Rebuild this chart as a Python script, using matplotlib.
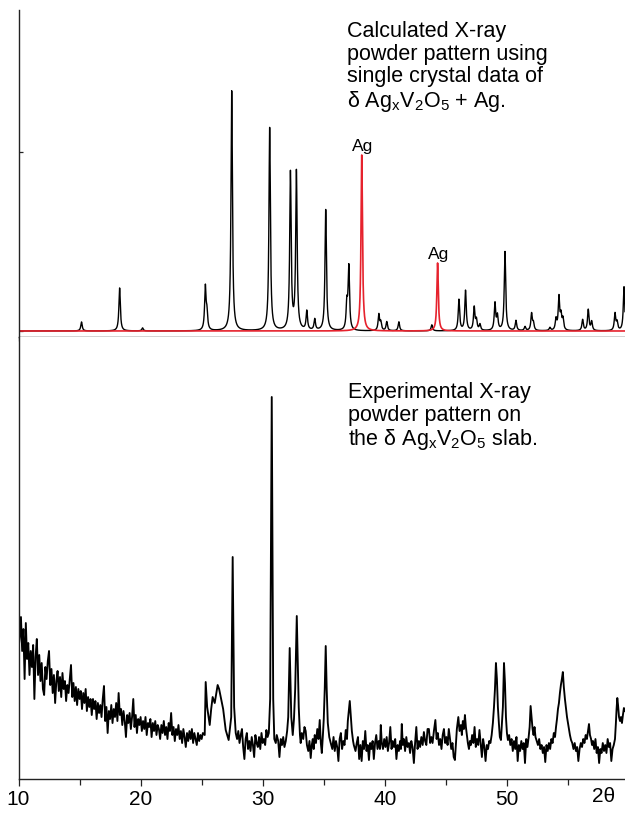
import numpy as np
import matplotlib.pyplot as plt

plt.rcParams['font.family'] = ['Liberation Sans', 'DejaVu Sans']
plt.rcParams['mathtext.fontset'] = 'custom'
plt.rcParams['mathtext.rm'] = 'Liberation Sans'
plt.rcParams['mathtext.it'] = 'Liberation Sans:italic'

# calculated pattern: delta-AgxV2O5 reflections (2theta, relative height)
calc_pos = [15.16, 18.28, 20.16, 25.30, 25.43, 27.46, 30.57, 32.27, 32.76,
            33.61, 34.26, 35.16, 36.89, 37.05, 39.51, 39.67, 40.16, 41.15,
            43.85, 46.07, 46.61, 47.32, 47.50, 47.79, 49.02, 49.22, 49.84,
            50.74, 51.48, 52.02, 52.17, 53.52, 54.02, 54.26, 54.43, 54.59,
            56.20, 56.66, 56.94, 58.85, 59.02, 59.59]
calc_hts = [9, 43, 3, 43, 16, 240, 203, 157, 158,
            19, 11, 121, 25, 63, 16, 8, 9, 9,
            6, 31, 40, 23, 10, 6, 27, 14, 79,
            10, 4, 17, 7, 3, 11, 33, 14, 11,
            11, 21, 9, 17, 8, 44]

# metallic silver reflections
ag_pos = [38.11, 44.32]
ag_hts = [176, 68]

# measured pattern on the slab, 10-25.1 deg on a 0.1 deg step
exp_low_angle = [
    130, 142, 162, 128, 150, 100, 156, 120, 136, 104,
    128, 112, 134, 80, 122, 140, 104, 124, 98, 116,
    90, 84, 112, 100, 118, 128, 94, 110, 86, 104,
    76, 98, 108, 88, 102, 82, 106, 90, 98, 78,
    94, 86, 100, 114, 82, 96, 78, 92, 74, 90,
    80, 88, 70, 86, 76, 90, 68, 82, 72, 80,
    64, 80, 70, 78, 60, 76, 66, 74, 62, 80,
    93, 58, 72, 46, 68, 60, 74, 56, 70, 62,
    76, 58, 86, 64, 70, 54, 68, 58, 42, 64,
    56, 66, 50, 62, 80, 52, 64, 46, 60, 54,
    62, 48, 58, 50, 62, 44, 56, 52, 60, 42,
    56, 48, 58, 44, 54, 50, 40, 54, 46, 58,
    44, 52, 40, 56, 48, 66, 44, 52, 38, 50,
    44, 54, 40, 48, 36, 50, 42, 32, 46, 38,
    48, 40, 50, 36, 46, 40, 34, 46, 38, 44,
    40, 46]

# 25.25 deg upwards, listed as (2theta, counts) pairs
exp_high_angle = [
    (25.25, 44), (25.33, 97), (25.45, 72), (25.66, 54), (25.78, 70),
    (25.90, 82), (26.07, 76), (26.31, 94), (26.43, 90), (26.56, 82),
    (26.76, 70), (26.97, 49), (27.21, 39), (27.42, 62), (27.54, 222),
    (27.66, 72), (27.79, 46), (27.90, 40), (28.00, 48), (28.10, 36),
    (28.20, 44), (28.30, 50), (28.40, 32), (28.50, 20), (28.60, 40),
    (28.70, 46), (28.80, 30), (28.90, 38), (29.00, 28), (29.10, 42),
    (29.20, 34), (29.30, 22), (29.40, 44), (29.50, 36), (29.60, 32),
    (29.70, 42), (29.80, 30), (29.90, 46), (30.00, 36), (30.10, 40),
    (30.20, 34), (30.30, 49), (30.40, 42), (30.50, 46), (30.61, 80),
    (30.74, 382), (30.86, 80), (30.95, 40), (31.07, 36), (31.15, 44),
    (31.27, 38), (31.37, 22), (31.48, 40), (31.58, 34), (31.68, 42),
    (31.78, 32), (31.89, 38), (32.00, 48), (32.09, 62), (32.21, 131),
    (32.34, 62), (32.46, 44), (32.56, 60), (32.66, 90), (32.79, 163),
    (32.95, 72), (33.05, 44), (33.11, 36), (33.20, 46), (33.32, 40),
    (33.42, 52), (33.52, 48), (33.62, 34), (33.73, 28), (33.83, 38),
    (33.93, 21), (34.02, 34), (34.10, 40), (34.18, 30), (34.26, 44),
    (34.36, 36), (34.47, 50), (34.57, 40), (34.67, 59), (34.76, 36),
    (34.84, 26), (34.93, 44), (35.00, 60), (35.08, 90), (35.16, 133),
    (35.24, 90), (35.33, 56), (35.45, 42), (35.57, 36), (35.70, 30),
    (35.80, 42), (35.90, 28), (36.00, 38), (36.10, 32), (36.20, 18),
    (36.30, 40), (36.40, 46), (36.50, 30), (36.60, 38), (36.70, 34),
    (36.80, 49), (36.90, 40), (36.97, 58), (37.05, 68), (37.13, 78),
    (37.22, 62), (37.30, 48), (37.40, 38), (37.46, 34), (37.60, 28),
    (37.70, 36), (37.80, 42), (37.90, 20), (38.00, 34), (38.10, 18),
    (38.20, 38), (38.30, 30), (38.40, 48), (38.50, 28), (38.60, 34),
    (38.70, 19), (38.80, 36), (38.90, 30), (39.00, 38), (39.10, 20),
    (39.20, 36), (39.30, 44), (39.40, 30), (39.50, 38), (39.60, 30),
    (39.67, 54), (39.75, 36), (39.85, 30), (39.95, 40), (40.05, 32),
    (40.15, 42), (40.25, 28), (40.35, 36), (40.45, 52), (40.55, 30),
    (40.65, 38), (40.75, 32), (40.85, 40), (40.95, 20), (41.05, 34),
    (41.15, 28), (41.25, 38), (41.32, 30), (41.39, 55), (41.47, 34),
    (41.56, 40), (41.66, 28), (41.76, 42), (41.86, 32), (41.97, 36),
    (42.07, 26), (42.17, 38), (42.27, 32), (42.38, 16), (42.48, 36),
    (42.58, 52), (42.68, 30), (42.79, 38), (42.89, 32), (42.99, 42),
    (43.10, 34), (43.20, 47), (43.30, 38), (43.40, 34), (43.50, 50),
    (43.61, 50), (43.71, 36), (43.81, 42), (43.91, 36), (44.02, 48),
    (44.14, 59), (44.24, 40), (44.34, 46), (44.44, 34), (44.54, 40),
    (44.64, 30), (44.74, 44), (44.84, 50), (44.94, 36), (45.04, 42),
    (45.14, 34), (45.24, 50), (45.34, 40), (45.44, 30), (45.54, 36),
    (45.64, 22), (45.74, 19), (45.82, 34), (45.90, 50), (46.02, 62),
    (46.12, 48), (46.23, 54), (46.31, 44), (46.39, 58), (46.48, 50),
    (46.56, 64), (46.64, 52), (46.72, 44), (46.80, 36), (46.89, 30),
    (46.97, 38), (47.05, 34), (47.15, 44), (47.25, 36), (47.35, 52),
    (47.45, 32), (47.55, 40), (47.65, 34), (47.75, 49), (47.85, 36),
    (47.95, 22), (48.05, 40), (48.15, 32), (48.25, 18), (48.35, 34),
    (48.45, 30), (48.55, 38), (48.65, 36), (48.75, 44), (48.85, 56),
    (48.94, 72), (49.02, 90), (49.10, 116), (49.18, 100), (49.26, 72),
    (49.34, 56), (49.42, 42), (49.51, 39), (49.59, 56), (49.67, 72),
    (49.76, 116), (49.84, 96), (49.92, 62), (50.00, 46), (50.08, 39),
    (50.18, 44), (50.28, 34), (50.38, 40), (50.48, 28), (50.58, 38),
    (50.68, 30), (50.78, 42), (50.88, 18), (50.98, 34), (51.08, 28),
    (51.18, 38), (51.28, 30), (51.38, 36), (51.48, 16), (51.58, 40),
    (51.68, 32), (51.78, 42), (51.86, 52), (51.94, 73), (52.02, 62),
    (52.10, 50), (52.18, 44), (52.26, 52), (52.34, 42), (52.44, 38),
    (52.54, 34), (52.64, 40), (52.74, 30), (52.84, 34), (52.94, 26),
    (53.04, 32), (53.14, 17), (53.24, 34), (53.34, 28), (53.44, 36),
    (53.54, 30), (53.64, 40), (53.74, 36), (53.84, 46), (53.94, 42),
    (54.02, 52), (54.10, 60), (54.18, 70), (54.26, 76), (54.34, 86),
    (54.42, 94), (54.50, 100), (54.58, 107), (54.66, 92), (54.75, 80),
    (54.84, 70), (54.92, 62), (55.00, 56), (55.08, 50), (55.16, 44),
    (55.25, 39), (55.35, 36), (55.45, 30), (55.55, 36), (55.65, 28),
    (55.75, 32), (55.85, 18), (55.95, 30), (56.05, 36), (56.15, 32),
    (56.25, 40), (56.35, 36), (56.45, 44), (56.55, 40), (56.64, 48),
    (56.72, 55), (56.80, 44), (56.89, 40), (56.97, 34), (57.05, 38),
    (57.15, 30), (57.25, 40), (57.35, 26), (57.45, 32), (57.55, 16),
    (57.65, 30), (57.75, 26), (57.85, 36), (57.95, 28), (58.05, 34),
    (58.15, 26), (58.25, 40), (58.35, 32), (58.45, 36), (58.55, 18),
    (58.65, 30), (58.75, 34), (58.85, 40), (58.92, 55), (58.98, 70),
    (59.04, 81), (59.10, 74), (59.18, 62), (59.26, 58), (59.34, 62),
    (59.42, 56), (59.50, 64), (59.58, 71), (59.67, 68)]

x_major = [10, 20, 30, 40, 50]
x_minor = [15, 25, 35, 45, 55]
x_lim = (10, 59.67)

calc_text = ('Calculated X-ray\npowder pattern using\nsingle crystal data of\n'
             r'δ Ag$_\mathregular{x}$V$_\mathregular{2}$O$_\mathregular{5}$ + Ag.')
exp_text = ('Experimental X-ray\npowder pattern on\n'
            r'the δ Ag$_\mathregular{x}$V$_\mathregular{2}$O$_\mathregular{5}$ slab.')


def profile(grid, pos, hts, fwhm=0.14):
    g = fwhm / 2
    pos = np.asarray(pos)[:, None]
    hts = np.asarray(hts)[:, None]
    return (hts * g ** 2 / ((grid[None, :] - pos) ** 2 + g ** 2)).sum(axis=0)


grid = np.arange(x_lim[0], x_lim[1] + 0.01, 0.005)
calc_curve = profile(grid, calc_pos, calc_hts)
ag_curve = profile(grid, ag_pos, ag_hts)

exp_2theta = np.concatenate([10.0 + 0.1 * np.arange(len(exp_low_angle)),
                             [p[0] for p in exp_high_angle]])
exp_counts = np.concatenate([exp_low_angle, [p[1] for p in exp_high_angle]])

fig = plt.figure(figsize=(6.25, 8.13), dpi=100)
ax_top = fig.add_axes([0.0296, 0.5855, 0.9704, 0.4022])
ax_bot = fig.add_axes([0.0296, 0.0418, 0.9704, 0.5437])

axis_col = '#222222'
red = '#e6222d'

# upper panel: calculated pattern
ax_top.plot(grid, calc_curve, color='black', lw=1.0)
ax_top.plot(grid, ag_curve, color=red, lw=1.2)
ax_top.set_xlim(*x_lim)
ax_top.set_ylim(-6, 321)
ax_top.spines[['top', 'right']].set_visible(False)
for s in ('left', 'bottom'):
    ax_top.spines[s].set_color(axis_col)
    ax_top.spines[s].set_linewidth(1.0)
ax_top.set_xticks(x_major)
ax_top.set_xticks(x_minor, minor=True)
ax_top.tick_params(axis='x', which='both', direction='out', length=3,
                   width=0.9, color=axis_col, labelbottom=False)
ax_top.set_yticks([0, 179])
ax_top.tick_params(axis='y', direction='in', length=3, width=0.9,
                   color=axis_col, labelleft=False)
for xp, h in zip(ag_pos, ag_hts):
    ax_top.text(xp + 0.1, h + 1, 'Ag', ha='center', va='bottom', fontsize=12.5)

# lower panel: measured pattern
ax_bot.plot(exp_2theta, exp_counts, color='black', lw=1.35)
ax_bot.set_xlim(*x_lim)
ax_bot.set_ylim(0, 442)
ax_bot.spines[['top', 'right']].set_visible(False)
for s in ('left', 'bottom'):
    ax_bot.spines[s].set_color(axis_col)
    ax_bot.spines[s].set_linewidth(1.0)
ax_bot.set_xticks(x_major)
ax_bot.set_xticks(x_minor, minor=True)
ax_bot.tick_params(axis='x', which='major', direction='out', length=5,
                   width=0.9, color=axis_col, labelsize=15, pad=3)
ax_bot.tick_params(axis='x', which='minor', direction='out', length=4,
                   width=0.9, color=axis_col)
ax_bot.set_yticks([])
ax_bot.text(57.9, -0.018, '2θ', transform=ax_bot.get_xaxis_transform(),
            ha='center', va='top', fontsize=15)

fig.text(0.555, 1 - 21 / 813, calc_text, ha='left', va='top', fontsize=15.5,
         linespacing=1.1)
fig.text(0.557, 1 - 382 / 813, exp_text, ha='left', va='top', fontsize=15.5,
         linespacing=1.1)

fig.savefig('out.png', dpi=100)
